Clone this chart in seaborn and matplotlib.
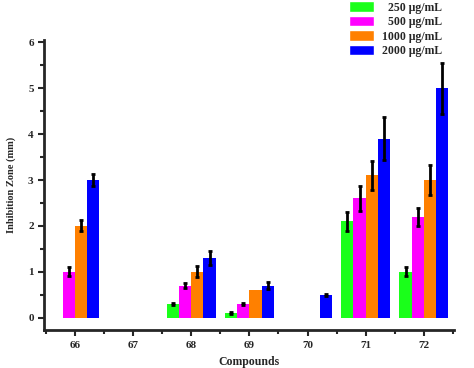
import matplotlib
matplotlib.use("Agg")
import matplotlib.pyplot as plt
from matplotlib.patches import Patch
from matplotlib.ticker import MultipleLocator, FixedLocator
import pandas as pd
import seaborn as sns

compounds = ["66", "67", "68", "69", "70", "71", "72"]
doses = ["250 μg/mL", "500 μg/mL", "1000 μg/mL", "2000 μg/mL"]
zone_250 = [0.0, 0.0, 0.3, 0.1, 0.0, 2.1, 1.0]
zone_500 = [1.0, 0.0, 0.7, 0.3, 0.0, 2.6, 2.2]
zone_1000 = [2.0, 0.0, 1.0, 0.6, 0.0, 3.1, 3.0]
zone_2000 = [3.0, 0.0, 1.3, 0.7, 0.5, 3.9, 5.0]
err_250 = [0.0, 0.0, 0.03, 0.02, 0.0, 0.2, 0.1]
err_500 = [0.1, 0.0, 0.05, 0.02, 0.0, 0.27, 0.2]
err_1000 = [0.12, 0.0, 0.12, 0.0, 0.0, 0.32, 0.32]
err_2000 = [0.13, 0.0, 0.15, 0.07, 0.02, 0.47, 0.55]

colors = ["#1aff1a", "#ff00ff", "#ff8000", "#0000ff"]

values = [zone_250, zone_500, zone_1000, zone_2000]
errors = [err_250, err_500, err_1000, err_2000]

rows = []
for d, vals, errs in zip(doses, values, errors):
    for c, v, e in zip(compounds, vals, errs):
        rows.append({"Compound": c, "Dose": d, "Zone": v, "Err": e})
df = pd.DataFrame(rows)

sns.set_style("ticks")
plt.rcParams["font.family"] = ["Liberation Serif", "DejaVu Serif"]
plt.rcParams["font.weight"] = "bold"

fig = plt.figure(figsize=(4.74, 3.68), dpi=100)
ax = fig.add_axes([0.093, 0.103, 0.865, 0.788])

sns.barplot(data=df, x="Compound", y="Zone", hue="Dose", order=compounds,
            hue_order=doses, palette=colors, width=0.84, saturation=1,
            errorbar=None, legend=False, linewidth=0, edgecolor="none", ax=ax)

# error bars on top of each bar, placed from the bar patches
for container, d in zip(ax.containers, doses):
    sub = df[df["Dose"] == d].set_index("Compound").loc[compounds]
    for bar, (_, r) in zip(container, sub.iterrows()):
        if r["Zone"] <= 0 or r["Err"] <= 0:
            continue
        xc = bar.get_x() + bar.get_width() / 2
        ax.errorbar(xc, r["Zone"], yerr=r["Err"], fmt="none", ecolor="black",
                    elinewidth=2, capsize=1.5, capthick=2)

ax.set_xlim(-0.53, 6.52)
ax.set_ylim(-0.27, 6.05)
ax.yaxis.set_major_locator(MultipleLocator(1))
ax.yaxis.set_minor_locator(MultipleLocator(0.5))
ax.xaxis.set_minor_locator(FixedLocator([i - 0.5 for i in range(8)]))
ax.tick_params(axis="both", which="major", length=4, width=1.5, labelsize=8)
ax.tick_params(axis="both", which="minor", length=3, width=1.5)
sns.despine(ax=ax)
for s in ["left", "bottom"]:
    ax.spines[s].set_linewidth(2)

ax.set_xlabel("Compounds", fontsize=8.5, fontweight="bold", labelpad=5)
ax.set_ylabel("Inhibition Zone (mm)", fontsize=7.5, fontweight="bold", labelpad=9)

handles = [Patch(facecolor=c) for c in colors]
labels = ["  " + doses[0], "  " + doses[1], doses[2], doses[3]]
fig.legend(handles, labels, loc="upper left", bbox_to_anchor=(0.737, 0.996),
           frameon=False, handlelength=2.1, handleheight=0.95,
           labelspacing=0.2, borderpad=0, borderaxespad=0, handletextpad=0.7,
           prop={"weight": "bold", "size": 8.5})

fig.savefig("out.png", dpi=100)
